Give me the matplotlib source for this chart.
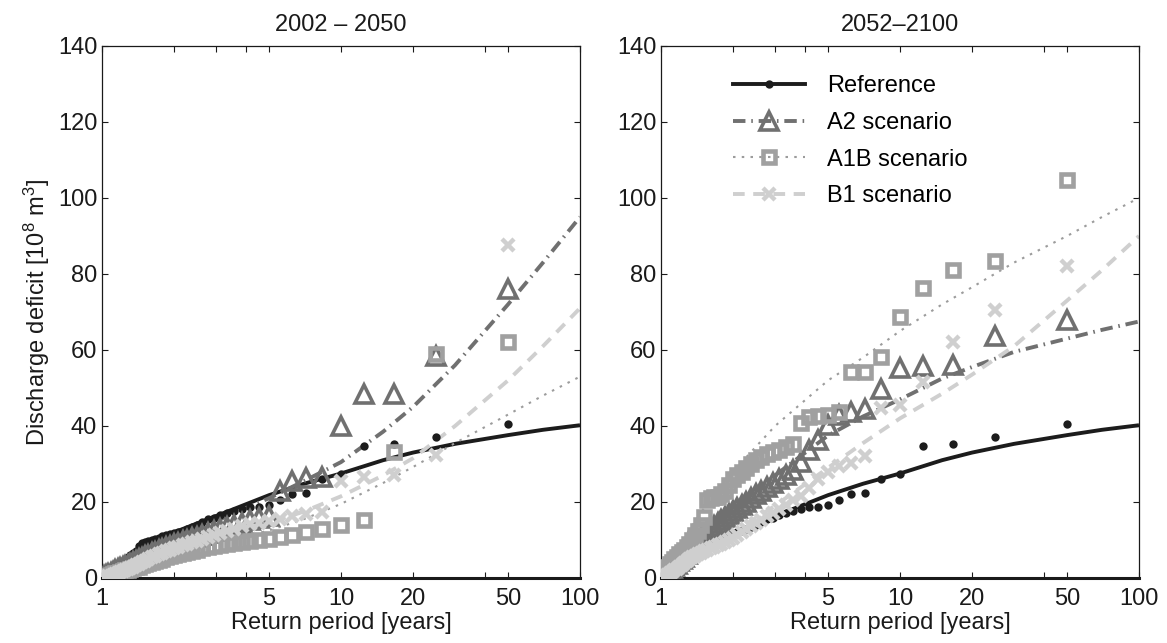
import numpy as np
import matplotlib
matplotlib.use("Agg")
import matplotlib.pyplot as plt
from matplotlib.lines import Line2D
from matplotlib.ticker import FixedLocator, NullFormatter, FixedFormatter

plt.rcParams['font.family'] = ['Liberation Sans', 'DejaVu Sans']
plt.rcParams['mathtext.fontset'] = 'custom'
plt.rcParams['mathtext.rm'] = 'Liberation Sans'
plt.rcParams['mathtext.it'] = 'Liberation Sans:italic'

# ---------------- data ----------------
panel_titles = ["2002 \u2013 2050", "2052\u20132100"]
series_names = ["Reference", "A2 scenario", "A1B scenario", "B1 scenario"]

# sorted (descending) annual discharge deficits, 49 years; plotted at T = (n+1)/rank
ref_obs = [40.5, 37.2, 35.2, 34.8, 27.3, 26.0, 22.3, 22.1, 20.6, 19.1,
           18.7, 18.6, 18.2, 17.6, 17.2, 16.5, 15.8, 15.5, 14.8, 14.0,
           13.5, 13.0, 12.5, 12.2, 11.8, 11.5, 11.2, 11.0, 10.6, 10.3,
           10.0, 9.8, 9.5, 9.2, 8.3, 7.0, 6.5, 6.0, 5.5, 5.0,
           4.5, 4.0, 3.5, 3.0, 2.5, 2.0, 1.5, 1.0, 0.5]

a2_obs_p1 = [76, 58.5, 48.5, 48.5, 40, 26.7, 26.2, 25.6, 23, 16.3,
             15.8, 15.2, 14.6, 14, 13.4, 12.8, 12.3, 11.8, 11.3, 10.9,
             10.5, 10.1, 9.7, 9.3, 8.9, 8.5, 8.1, 7.7, 7.3, 6.9,
             6.5, 6.1, 5.7, 5.3, 4.9, 4.5, 4.1, 3.8, 3.5, 3.2,
             2.9, 2.6, 2.3, 2, 1.7, 1.4, 1.1, 0.8, 0.5]
a1b_obs_p1 = [62, 59, 33.2, 15.3, 14, 12.8, 12.1, 11.4, 10.9, 10.3,
              10, 9.8, 9.5, 9.2, 9, 8.7, 8.4, 8.1, 7.8, 7.5,
              7.2, 6.9, 6.6, 6.3, 6, 5.7, 5.4, 5.1, 4.8, 4.5,
              4.2, 3.9, 3.6, 3.3, 3, 2.8, 2.6, 2.4, 2.2, 2,
              1.8, 1.6, 1.4, 1.2, 1, 0.8, 0.6, 0.4, 0.2]
b1_obs_p1 = [87.6, 32.4, 27, 26.5, 25.5, 17.5, 16.8, 16.2, 15.6, 15,
             14.6, 14.2, 13.6, 13, 12.4, 11.8, 11.3, 10.8, 10.3, 9.8,
             9.4, 9, 8.6, 8.2, 7.8, 7.4, 7, 6.6, 6.2, 5.8,
             5.4, 5, 4.6, 4.2, 3.8, 3.4, 3, 2.7, 2.4, 2.1,
             1.8, 1.5, 1.2, 1, 0.8, 0.6, 0.4, 0.2, 0.1]

a2_obs_p2 = [67.8, 63.8, 56, 55.8, 55.2, 49.8, 44.5, 43.8, 42.8, 40.3,
             36.3, 33.7, 30.5, 28.5, 27, 26, 25, 24, 23, 22,
             21, 20, 19.2, 18.4, 17.6, 16.8, 16, 15.2, 14.4, 13.6,
             12.8, 12, 11.2, 10.4, 9.6, 8.8, 8, 7.2, 6.4, 5.6,
             5, 4.4, 3.8, 3.2, 2.6, 2, 1.5, 1, 0.5]
a1b_obs_p2 = [104.8, 83.5, 81, 76.2, 68.6, 58.1, 54.3, 54.1, 43.8, 43,
              42.6, 42.4, 40.7, 35.2, 34.5, 33.8, 33.2, 32.6, 31.8, 31,
              30, 29, 28, 27, 26, 24.5, 23, 22, 21.4, 21.2,
              21, 20.6, 16, 14, 12.5, 11.2, 10, 9, 8.2, 7.5,
              6.8, 6.2, 5.6, 5, 4.3, 3.6, 2.9, 2.2, 1.5]
b1_obs_p2 = [82, 70.5, 62.2, 51.5, 45.5, 44.8, 32, 30.2, 29.5, 28,
             26, 23.6, 21.5, 20.5, 19.3, 18.2, 17.2, 16.2, 15.3, 14.4,
             13.6, 12.8, 12, 11.3, 10.6, 10, 9.5, 9, 8.6, 8.2,
             7.8, 7.4, 7, 6.6, 6.2, 5.8, 5.4, 5, 4.5, 4,
             3.5, 3, 2.5, 2, 1.6, 1.2, 0.8, 0.5, 0.2]

# fitted frequency curves, sampled at these return periods
curve_T = [1, 1.2, 1.5, 2, 3, 5, 7, 10, 15, 20, 30, 50, 70, 100]
ref_fit = [1, 4.5, 8, 12, 16.3, 21.8, 24.8, 27.5, 31, 33, 35.3, 37.6, 39, 40.2]
a2_fit_p1 = [0.5, 4, 7, 10.5, 15, 21, 25.5, 30.5, 38.5, 45, 56, 72, 83, 95]
a1b_fit_p1 = [0, 2, 4, 6.5, 9, 12.5, 15.5, 19.5, 25, 29.2, 35.5, 43, 48, 53]
b1_fit_p1 = [0, 2.5, 5, 7.5, 10.5, 14.5, 17.5, 21.5, 27, 31.5, 40, 52, 61, 71]
a2_fit_p2 = [0, 5.5, 11, 18, 27, 37.5, 42.5, 47, 52.5, 55.5, 59.5, 63, 65.3, 67.5]
a1b_fit_p2 = [0, 9, 18, 28, 40, 52, 58, 65, 72, 76.5, 83, 90, 95, 100]
b1_fit_p2 = [0, 4, 7.5, 12, 19, 29, 35.5, 42, 48.5, 53.5, 61, 73, 81, 90]

x_ticks = [1, 2, 3, 4, 5, 10, 20, 40, 50, 100]
x_labels = ["1", "", "", "", "5", "10", "20", "", "50", "100"]
y_ticks = [0, 20, 40, 60, 80, 100, 120, 140]

panels = [
    [ref_obs, a2_obs_p1, a1b_obs_p1, b1_obs_p1],
    [ref_obs, a2_obs_p2, a1b_obs_p2, b1_obs_p2],
]
fits = [
    [ref_fit, a2_fit_p1, a1b_fit_p1, b1_fit_p1],
    [ref_fit, a2_fit_p2, a1b_fit_p2, b1_fit_p2],
]

# ---------------- styles ----------------
styles = [
    dict(color="#1c1c1c", ls="-", lw=2.8, marker="o", ms=6.0, mew=0, mfc="#1c1c1c", mec="#1c1c1c", zo=2.5),
    dict(color="#707070", ls=(0, (3.2, 1.5, 0.4, 1.5)), lw=2.8, marker="^", ms=12.5, mew=2.6, mfc="none", mec="#707070", zo=3),
    dict(color="#9c9c9c", ls=(0, (1.2, 3.0)), lw=1.5, marker="s", ms=8.5, mew=3.3, mfc="none", mec="#a0a0a0", zo=4),
    dict(color="#cfcfcf", ls=(0, (3.0, 2.2)), lw=2.8, marker="x", ms=8.5, mew=3.2, mfc="#cfcfcf", mec="#cfcfcf", zo=5),
]

W, H = 1167, 643
fig = plt.figure(figsize=(W / 100, H / 100), dpi=100)
axes_px = [(102, 46, 580, 578), (661, 46, 1139, 578)]
FS = 17

for p in range(2):
    x0, y0, x1, y1 = axes_px[p]
    ax = fig.add_axes([x0 / W, (H - y1) / H, (x1 - x0) / W, (y1 - y0) / H])
    for s in range(4):
        st = styles[s]
        obs = panels[p][s]
        n = len(obs)
        T = (n + 1) / np.arange(1, n + 1)
        ax.plot(curve_T, fits[p][s], color=st["color"], ls=st["ls"], lw=st["lw"],
                solid_capstyle="butt", dash_capstyle="butt", zorder=2 + 0.1 * s)
        ax.plot(T, obs, ls="none", marker=st["marker"], ms=st["ms"], mew=st["mew"],
                mfc=st["mfc"], mec=st["mec"], zorder=st["zo"])
    ax.set_xscale("log")
    ax.set_xlim(1, 100)
    ax.set_ylim(0, 140)
    ax.xaxis.set_major_locator(FixedLocator(x_ticks))
    ax.xaxis.set_major_formatter(FixedFormatter(x_labels))
    ax.xaxis.set_minor_locator(FixedLocator([]))
    ax.xaxis.set_minor_formatter(NullFormatter())
    ax.set_yticks(y_ticks)
    ax.tick_params(direction="in", top=True, right=True, length=4, width=0.8,
                   labelsize=FS, colors="#1a1a1a")
    ax.tick_params(axis="x", pad=7)
    for sp in ax.spines.values():
        sp.set_linewidth(0.9)
        sp.set_color("#1a1a1a")
    ax.spines["bottom"].set_linewidth(2.2)
    ax.set_title(panel_titles[p], fontsize=FS, pad=11, color="#1a1a1a")
    ax.set_xlabel("Return period [years]", fontsize=FS, labelpad=2, color="#1a1a1a")
    if p == 0:
        ax.set_ylabel(r"Discharge deficit [10$^{8}$ m$^{3}$]", fontsize=FS, labelpad=4,
                      color="#1a1a1a")
    else:
        handles = []
        for s in range(4):
            st = styles[s]
            handles.append(Line2D([], [], color=st["color"], ls=st["ls"], lw=st["lw"],
                                  marker=st["marker"], ms=st["ms"], mew=st["mew"],
                                  mfc=st["mfc"], mec=st["mec"]))
        ax.legend(handles, series_names, loc="upper left", bbox_to_anchor=(0.15, 0.945),
                  frameon=False, fontsize=FS, handlelength=3.05, handletextpad=0.95,
                  labelspacing=0.62, borderpad=0, borderaxespad=0, numpoints=1)

fig.savefig("out.png", dpi=100)
